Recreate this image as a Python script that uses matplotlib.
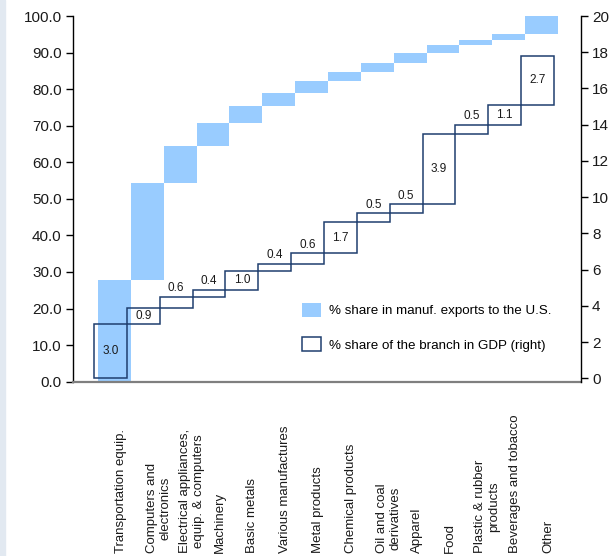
import matplotlib
matplotlib.use('Agg')
import matplotlib.pyplot as plt
import numpy as np
from matplotlib.patches import Patch, Rectangle
from matplotlib.ticker import FormatStrFormatter
from matplotlib.transforms import blended_transform_factory

plt.rcParams['font.family'] = ['Liberation Sans', 'DejaVu Sans']

categories = ["Transportation equip.", "Computers and\nelectronics",
              "Electrical appliances,\nequip. & computers", "Machinery",
              "Basic metals", "Various manufactures", "Metal products",
              "Chemical products", "Oil and coal\nderivatives", "Apparel",
              "Food", "Plastic & rubber\nproducts", "Beverages and tobacco", "Other"]
export_share = [27.8, 26.6, 10.1, 6.3, 4.6, 3.5, 3.3, 2.5, 2.4, 2.8, 2.2, 1.3, 1.6, 5.0]
gdp_share = [3.0, 0.9, 0.6, 0.4, 1.0, 0.4, 0.6, 1.7, 0.5, 0.5, 3.9, 0.5, 1.1, 2.7]
left_ticks = list(range(0, 101, 10))
right_ticks = list(range(0, 21, 2))
legend_labels = ["% share in manuf. exports to the U.S.", "% share of the branch in GDP (right)"]

BLUE = '#99CCFF'
NAVY = '#1F3F6F'
W, H = 613, 556

fig = plt.figure(figsize=(W / 100, H / 100), dpi=100)
fig.add_artist(Rectangle((0, 0), 5 / W, 1, transform=fig.transFigure,
                         color='#E2E9F1', zorder=0))

ax = fig.add_axes([72.7 / W, 1 - 381.7 / H, (581 - 72.7) / W, (381.7 - 16) / H])
x = np.arange(len(categories))
exp = np.array(export_share)
cum_e = np.cumsum(exp)
ax.bar(x, exp, bottom=cum_e - exp, width=1.0, color=BLUE, linewidth=0, zorder=1)
ax.set_xlim(-1.27, 14.2)
ax.set_ylim(0, 100)
ax.set_yticks(left_ticks)
ax.yaxis.set_major_formatter(FormatStrFormatter('%.1f'))
ax.tick_params(axis='y', direction='out', length=5, width=1, labelsize=11,
               labelcolor='#1a1a1a', pad=3)
ax.set_xticks([])
for s in ['top', 'right']:
    ax.spines[s].set_visible(False)
ax.spines['left'].set_color('black')
ax.spines['left'].set_linewidth(1.0)
ax.spines['bottom'].set_color('#7f7f7f')
ax.spines['bottom'].set_linewidth(1.6)

ax2 = ax.twinx()
g = np.array(gdp_share)
cum_g = np.cumsum(g)
ax2.bar(x - 0.12, g, bottom=cum_g - g, width=1.0, facecolor='none',
        edgecolor=NAVY, linewidth=1.1, zorder=3)
ax2.set_ylim(-0.19, 20.0)
ax2.set_yticks(right_ticks)
ax2.tick_params(axis='y', direction='out', length=5, width=1, labelsize=11,
                labelcolor='#1a1a1a', pad=3)
for s in ['top', 'left', 'bottom']:
    ax2.spines[s].set_visible(False)
ax2.spines['right'].set_color('black')
ax2.spines['right'].set_linewidth(1.0)

for i, v in enumerate(gdp_share):
    if v >= 0.9:
        ax2.text(i - 0.12, cum_g[i] - v / 2, f"{v:.1f}", ha='center', va='center',
                 fontsize=8.5, color='#1a1a1a')
    else:
        ax2.annotate(f"{v:.1f}", (i - 0.12, cum_g[i]), xytext=(0, 2),
                     textcoords='offset points', ha='center', va='bottom',
                     fontsize=8.5, color='#1a1a1a')

trans = blended_transform_factory(ax.transData, fig.transFigure)
for i, lab in enumerate(categories):
    shift = 0.35 if '\n' in lab else 0.2
    ax.text(i + shift, 3 / H, lab, transform=trans, rotation=90, ha='center',
            va='bottom', multialignment='center', fontsize=9.5, linespacing=1.25,
            color='#1a1a1a')

handles = [Patch(facecolor=BLUE, edgecolor='none'),
           Patch(facecolor='white', edgecolor=NAVY, linewidth=1.1)]
ax2.legend(handles, legend_labels, loc='upper left',
           bbox_to_anchor=(302 / W, 1 - 303 / H), bbox_transform=fig.transFigure,
           frameon=False, fontsize=9.6, handlelength=1.45, handleheight=1.2,
           labelspacing=1.5, handletextpad=0.6, borderpad=0, borderaxespad=0)

fig.savefig('out.png', dpi=100)
